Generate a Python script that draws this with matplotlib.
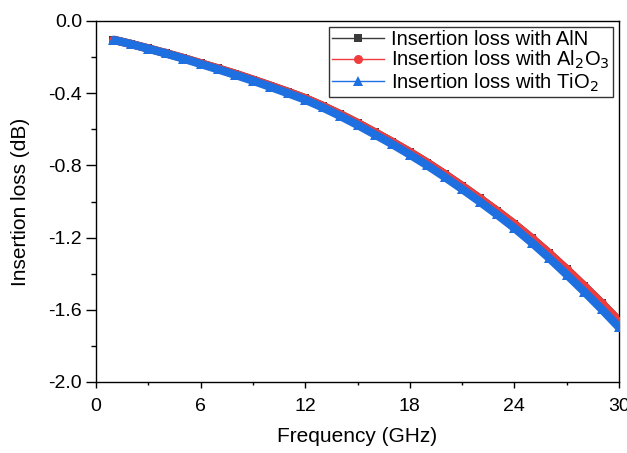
import numpy as np
import matplotlib
matplotlib.use('Agg')
import matplotlib.pyplot as plt
from matplotlib.ticker import MultipleLocator

plt.rcParams['font.family'] = ['Liberation Sans', 'DejaVu Sans']

freq = [1, 2, 3, 4, 5, 6, 7, 8, 9, 10, 11, 12, 13, 14, 15,
        16, 17, 18, 19, 20, 21, 22, 23, 24, 25, 26, 27, 28, 29, 30]

# AlN sits underneath the Al2O3 curve in the picture
loss_aln = [-0.104, -0.127, -0.152, -0.178, -0.205, -0.234, -0.263, -0.293,
            -0.325, -0.358, -0.392, -0.428, -0.470, -0.516, -0.565, -0.617,
            -0.670, -0.726, -0.785, -0.848, -0.914, -0.982, -1.052, -1.125,
            -1.204, -1.288, -1.376, -1.468, -1.563, -1.662]

loss_al2o3 = [-0.104, -0.127, -0.152, -0.178, -0.205, -0.234, -0.263, -0.293,
              -0.325, -0.358, -0.392, -0.428, -0.470, -0.516, -0.565, -0.617,
              -0.670, -0.726, -0.785, -0.848, -0.914, -0.982, -1.052, -1.125,
              -1.204, -1.288, -1.376, -1.468, -1.563, -1.662]

loss_tio2 = [-0.104, -0.128, -0.153, -0.180, -0.208, -0.238, -0.268, -0.299,
             -0.331, -0.365, -0.400, -0.436, -0.479, -0.526, -0.576, -0.629,
             -0.683, -0.740, -0.800, -0.864, -0.931, -1.000, -1.072, -1.147,
             -1.228, -1.314, -1.405, -1.499, -1.596, -1.697]

labels = ['Insertion loss with AlN',
          r'Insertion loss with Al$_2$O$_3$',
          r'Insertion loss with TiO$_2$']
colors = ['#3a3a3a', '#ef3d3d', '#1e6fdf']
markers = ['s', 'o', '^']
msizes = [5.5, 6.5, 6.5]
series = [loss_aln, loss_al2o3, loss_tio2]

fig = plt.figure(figsize=(6.27, 4.53), dpi=100)
ax = fig.add_axes([96 / 627, 1 - 382 / 453, 523 / 627, 361 / 453])

for i, (y, c, m, ms, lab) in enumerate(zip(series, colors, markers, msizes, labels)):
    z = 2 + 2 * i
    # thick band standing in for the dense markers
    ax.plot(freq, y, color=c, lw=6.0, solid_capstyle='butt', zorder=z)
    ax.plot(freq, y, color=c, lw=1.0, marker=m, markersize=ms,
            markeredgewidth=0, label=lab, zorder=z + 1)

ax.set_xlim(0, 30)
ax.set_ylim(-2.0, 0.0)
ax.xaxis.set_major_locator(MultipleLocator(6))
ax.xaxis.set_minor_locator(MultipleLocator(3))
ax.yaxis.set_major_locator(MultipleLocator(0.4))
ax.yaxis.set_minor_locator(MultipleLocator(0.2))
ax.yaxis.set_major_formatter(plt.FuncFormatter(lambda v, p: '%.1f' % v))

ax.tick_params(axis='y', which='major', direction='out', length=7, width=1,
               labelsize=14, right=False, pad=3)
ax.tick_params(axis='y', which='minor', direction='out', length=3.5, width=1,
               right=False)
ax.tick_params(axis='x', which='major', direction='out', length=4.5, width=1,
               labelsize=14, top=False, pad=7)
ax.tick_params(axis='x', which='minor', direction='out', length=2.5, width=1,
               top=False)
for s in ax.spines.values():
    s.set_linewidth(1.0)

ax.set_xlabel('Frequency (GHz)', fontsize=15, labelpad=9)
ax.set_ylabel('Insertion loss (dB)', fontsize=15, labelpad=13)

leg = ax.legend(loc='upper right', fontsize=14.5, frameon=True, fancybox=False,
                edgecolor='black', handlelength=2.6, borderpad=0.15,
                labelspacing=0.0, handletextpad=0.35, borderaxespad=0.3)
leg.get_frame().set_linewidth(1.0)
for h in leg.get_lines():
    h.set_linewidth(1.0)

fig.savefig('out.png', dpi=100)
